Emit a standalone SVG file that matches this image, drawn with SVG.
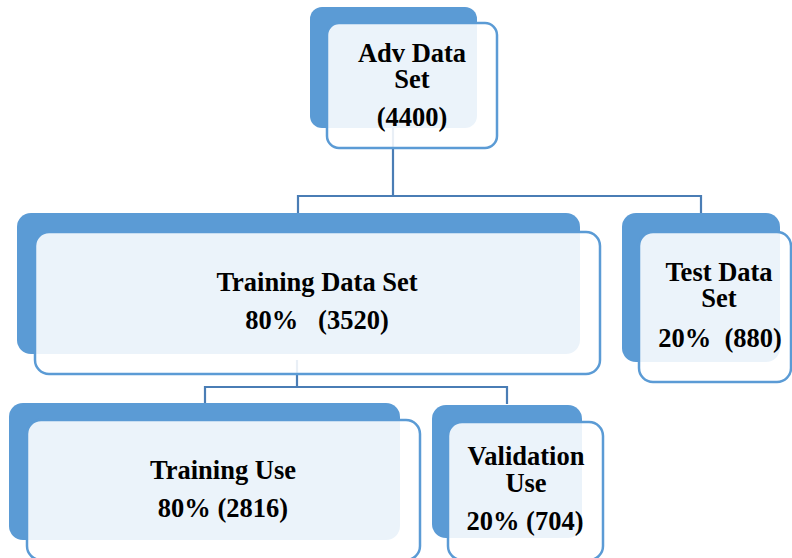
<svg xmlns="http://www.w3.org/2000/svg" width="792" height="558" viewBox="0 0 792 558">
<style>
.back{fill:#5B9BD5;}
.front{fill:#ffffff;fill-opacity:0.88;stroke:#5B9BD5;stroke-width:2.5;}
.conn{fill:none;stroke:#4A7DB5;stroke-width:2.2;}
text{font-family:"Liberation Serif","Times New Roman",serif;font-weight:bold;font-size:26.5px;fill:#000;text-anchor:middle;}
</style>
<rect width="792" height="558" fill="#ffffff"/>
<g id="connectors">
<path class="conn" d="M393 128 V196 M298 213 V196 H701 V213"/>
<path class="conn" d="M297 360 V387 M205 403 V387 H507 V404"/>
</g>
<g id="adv">
<rect class="back" x="310" y="7" width="167" height="121" rx="12"/>
<rect class="front" x="327" y="23" width="170" height="125" rx="12"/>
<text><tspan x="412" y="62">Adv Data</tspan><tspan x="412" y="88">Set</tspan></text>
<text x="412" y="126">(4400)</text>
</g>
<g id="training">
<rect class="back" x="17" y="213" width="563" height="141" rx="14"/>
<rect class="front" x="35" y="232" width="565" height="142" rx="14"/>
<text x="317" y="291">Training Data Set</text>
<text x="317" y="329" xml:space="preserve">80%   (3520)</text>
</g>
<g id="test">
<rect class="back" x="622" y="213" width="158" height="149" rx="14"/>
<rect class="front" x="639" y="232" width="152" height="150" rx="14"/>
<text><tspan x="719" y="281">Test Data</tspan><tspan x="719" y="307">Set</tspan></text>
<text x="720" y="347" xml:space="preserve">20%  (880)</text>
</g>
<g id="trainuse">
<rect class="back" x="9" y="403" width="391" height="137" rx="14"/>
<rect class="front" x="27" y="420" width="393" height="140" rx="14"/>
<text x="223" y="479">Training Use</text>
<text x="223" y="517">80% (2816)</text>
</g>
<g id="validation">
<rect class="back" x="432" y="405" width="150" height="133" rx="14"/>
<rect class="front" x="448" y="422" width="155" height="138" rx="14"/>
<text><tspan x="526" y="465">Validation</tspan><tspan x="526" y="492">Use</tspan></text>
<text x="525" y="530">20% (704)</text>
</g>
</svg>
